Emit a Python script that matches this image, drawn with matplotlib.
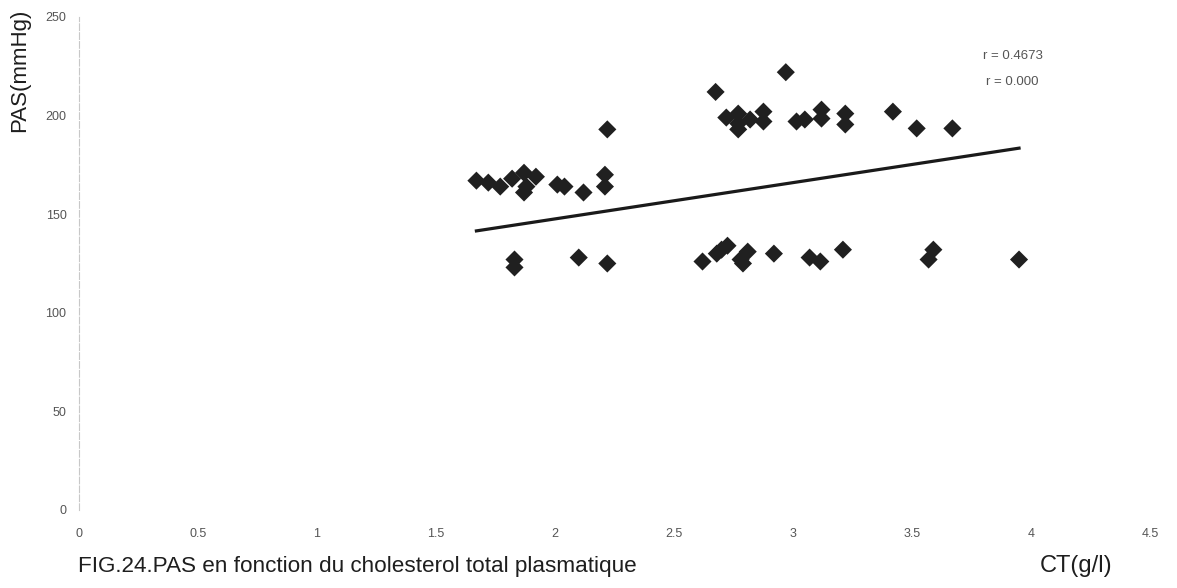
import numpy as np
import matplotlib
matplotlib.use("Agg")
import matplotlib.pyplot as plt

# Total plasma cholesterol CT (g/l) and systolic blood pressure PAS (mmHg)
ct = [1.67, 1.72, 1.77, 1.82, 1.87, 1.88, 1.87, 1.92, 2.01, 2.04, 2.12,
      2.21, 2.21, 2.22,
      1.83, 1.83, 2.10, 2.22,
      2.675, 2.97, 2.72, 2.77, 2.77, 2.77, 2.82, 2.876, 2.876, 3.015, 3.05,
      3.12, 3.12, 3.22, 3.22, 3.42, 3.52, 3.67,
      2.62, 2.68, 2.725, 2.70, 2.78, 2.81, 2.79, 2.92, 3.07, 3.115, 3.21,
      3.57, 3.59, 3.95]
pas = [167, 166, 164, 168, 171, 164, 161, 169, 165, 164, 161,
       170, 164, 193,
       127, 123, 128, 125,
       212, 222, 199, 201, 196, 193, 198, 202, 197, 197, 198,
       203, 198.5, 201, 195.5, 202, 193.5, 193.5,
       126, 130, 134, 132, 127, 131, 125, 130, 128, 126, 132,
       127, 132, 127]

# regression line of PAS on CT (slope in mmHg per g/l, intercept in mmHg)
trend_slope = 18.4
trend_intercept = 110.8

x_ticks = [0, 0.5, 1, 1.5, 2, 2.5, 3, 3.5, 4, 4.5]
x_ticklabels = ["0", "0.5", "1", "1.5", "2", "2.5", "3", "3.5", "4", "4.5"]
y_ticks = [0, 50, 100, 150, 200, 250]
r_labels = ["r = 0.4673", "r = 0.000"]

plt.rcParams["font.family"] = ["Liberation Sans", "DejaVu Sans"]

fig = plt.figure(figsize=(11.77, 5.88), dpi=100)
ax = fig.add_axes([0.0671, 0.1327, 0.9099, 0.8384])

x = np.asarray(ct)
y = np.asarray(pas)
ax.scatter(x, y, marker="D", s=85, color="#202020", edgecolors="none", zorder=3)

xl = np.array([x.min(), x.max()])
ax.plot(xl, trend_slope * xl + trend_intercept, color="#1a1a1a", lw=2.3, zorder=2)

ax.set_xlim(0, 4.5)
ax.set_ylim(0, 250)
ax.set_xticks(x_ticks)
ax.set_xticklabels(x_ticklabels)
ax.set_yticks(y_ticks)
ax.tick_params(axis="x", length=0, pad=13, labelsize=9, labelcolor="#555555")
ax.tick_params(axis="y", length=0, pad=9, labelsize=9, labelcolor="#555555")

for side in ("top", "right", "bottom"):
    ax.spines[side].set_visible(False)
ax.spines["left"].set_color("#c8c8c8")
ax.spines["left"].set_linewidth(0.8)
ax.spines["left"].set_linestyle((0, (6, 2)))

ax.text(3.80, 230, r_labels[0], fontsize=9.5, color="#555555", ha="left", va="center")
ax.text(3.81, 217, r_labels[1], fontsize=9.5, color="#555555", ha="left", va="center")

fig.text(0.008, 0.985, "PAS(mmHg)", rotation=90, ha="left", va="top",
         fontsize=16, color="#1e1e1e")
fig.text(0.066, 0.018, "FIG.24.PAS en fonction du cholesterol total plasmatique",
         ha="left", va="bottom", fontsize=16.2, color="#1e1e1e")
fig.text(0.883, 0.018, "CT(g/l)", ha="left", va="bottom", fontsize=17,
         color="#1e1e1e")

fig.savefig("out.png", dpi=100, facecolor="white")
